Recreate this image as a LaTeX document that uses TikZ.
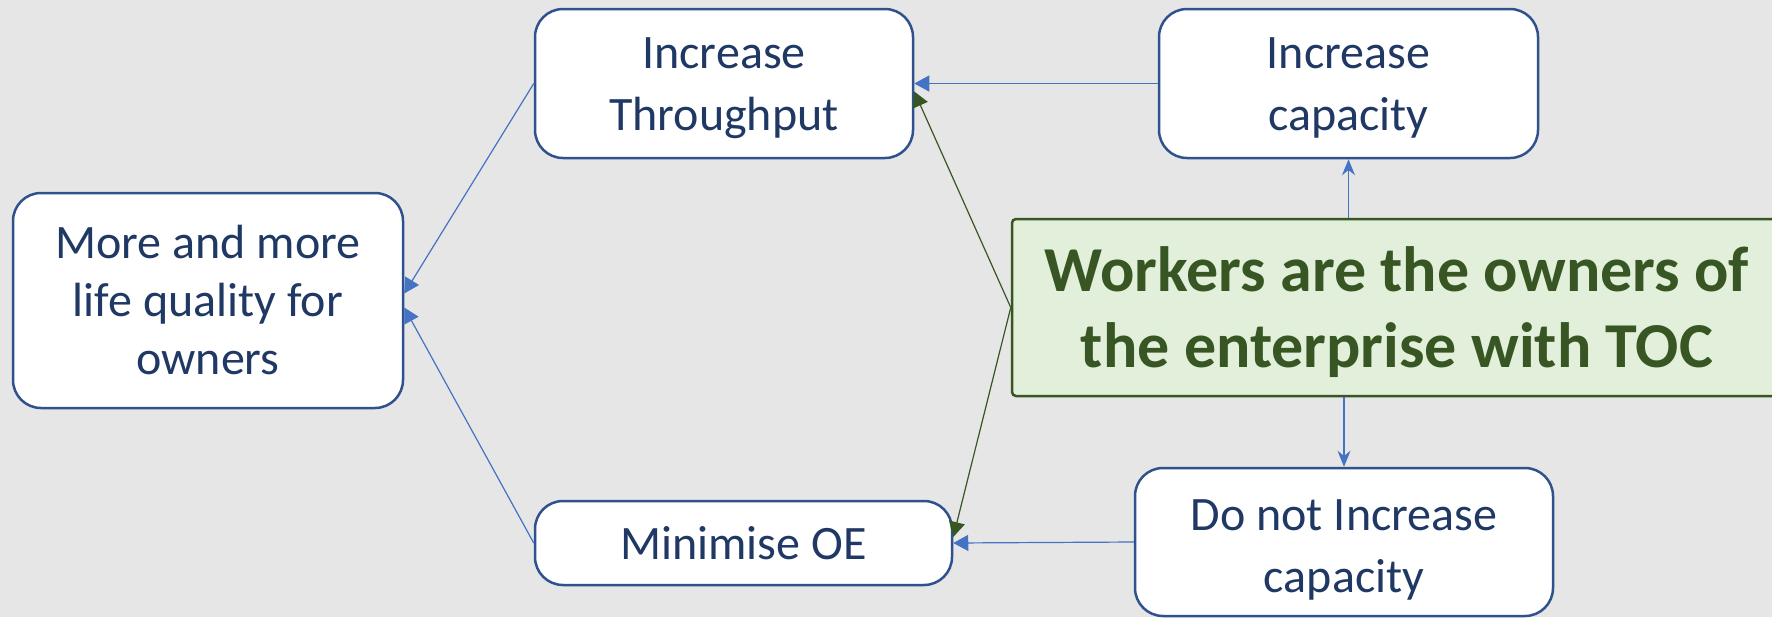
\documentclass[tikz,border=0pt]{standalone}
\usepackage{fontspec}
\setmainfont{Carlito}
\usetikzlibrary{arrows.meta}
\definecolor{boxline}{HTML}{2F528F}
\definecolor{boxtext}{HTML}{1F3864}
\definecolor{linkblue}{HTML}{4472C4}
\definecolor{tocgreen}{HTML}{375623}
\definecolor{tocfill}{HTML}{E2EFDA}
\definecolor{canvas}{HTML}{E7E6E6}
\tikzset{
  goalbox/.style={draw=boxline, line width=1.25pt, fill=white, rounded corners=14pt, align=center,
    text=boxtext, inner sep=0pt, font=\fontsize{24pt}{31pt}\selectfont},
  tocbox/.style={draw=tocgreen, line width=1.25pt, fill=tocfill, rounded corners=2pt, align=center,
    text=tocgreen, inner sep=0pt, font=\fontsize{32pt}{38pt}\selectfont\bfseries},
  link/.style={draw=linkblue, line width=0.6pt, -{Triangle[length=7.5pt,width=8pt]}},
  tocside/.style={draw=tocgreen, line width=0.6pt, -{Triangle[length=7.5pt,width=8pt]}},
  tocdown/.style={draw=linkblue, line width=0.6pt, -{Stealth[length=8pt,width=6.5pt]}}
}
\begin{document}
\begin{tikzpicture}[x=0.5pt,y=-0.5pt]
    \fill[canvas] (0,0) rectangle (1772,617);
    \useasboundingbox (0,0) rectangle (1772,617);
    \node[goalbox, font=\fontsize{24pt}{29pt}\selectfont, minimum width=195pt, minimum height=107.5pt] (life) at (208,300.5) {More and more\\life quality for\\owners};
    \node[goalbox, minimum width=189pt, minimum height=74.5pt] (tput) at (724,83.5) {\rule{0pt}{19.8pt}Increase\\Throughput};
    \node[goalbox, minimum width=189.5pt, minimum height=74.5pt] (cap) at (1348.5,83.5) {\rule{0pt}{19.8pt}Increase\\capacity};
    \node[goalbox, minimum width=208.5pt, minimum height=42pt] (oe) at (743.5,543) {Minimise OE};
    \node[goalbox, minimum width=209pt, minimum height=74pt] (nocap) at (1344,542) {\rule{0pt}{23.5pt}Do not Increase\\capacity};
    \node[tocbox, minimum width=385pt, minimum height=88.5pt] (toc) at (1397,307.5) {\rule{0pt}{27pt}Workers are the owners of\\the enterprise with TOC};
    % links into the goal
    \draw[link] (tput.west) -- ([yshift=3.5pt]life.east);
    \draw[link] (oe.west) -- ([yshift=-3.5pt]life.east);
    \draw[link] (cap.west) -- (tput.east);
    \draw[link] (nocap.west) -- (oe.east);
    % the injection
    \draw[tocside] (toc.west) -- ([yshift=-4pt]tput.east);
    \draw[tocside] (toc.west) -- ([yshift=3pt]oe.east);
    \draw[tocdown] (toc.north -| cap.south) -- (cap.south);
    \draw[tocdown] (toc.south -| nocap.north) -- (nocap.north);
\end{tikzpicture}
\end{document}
